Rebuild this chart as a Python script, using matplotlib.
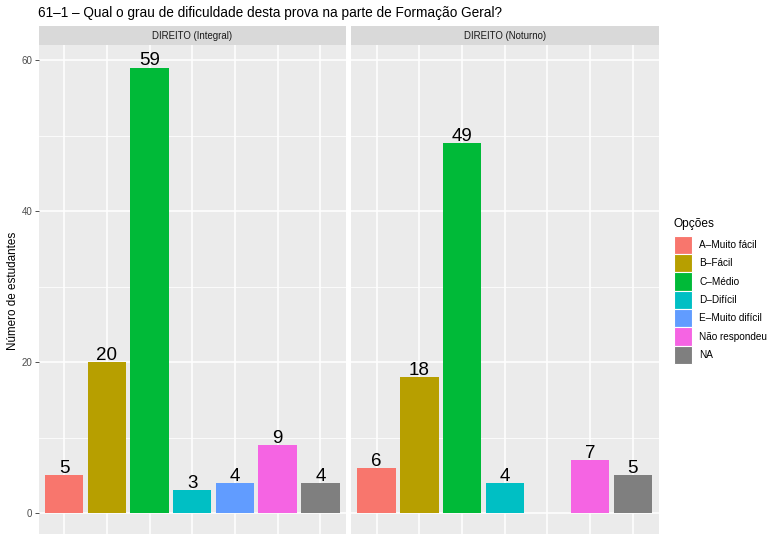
import matplotlib
matplotlib.use("Agg")
import matplotlib.pyplot as plt
from matplotlib.patches import Patch
from matplotlib.ticker import FixedLocator

plt.rcParams['font.family'] = ['Liberation Sans', 'DejaVu Sans']

# Survey data
options = ["A–Muito fácil", "B–Fácil", "C–Médio", "D–Difícil",
           "E–Muito difícil", "Não respondeu", "NA"]
option_colors = ["#F8766D", "#B79F00", "#00BA38", "#00BFC4",
                 "#619CFF", "#F564E3", "#7F7F7F"]
facets = ["DIREITO (Integral)", "DIREITO (Noturno)"]
integral = [5, 20, 59, 3, 4, 9, 4]
noturno = [6, 18, 49, 4, None, 7, 5]
counts = [integral, noturno]

title = "61–1 – Qual o grau de dificuldade desta prova na parte de Formação Geral?"
ylabel = "Número de estudantes"
legend_title = "Opções"
y_major = [0, 20, 40, 60]
y_minor = [10, 30, 50]

W, H = 767, 534
fig = plt.figure(figsize=(W / 100, H / 100), dpi=100)
fig.patch.set_facecolor("white")


def rect(l, t, r, b):
    return [l / W, 1 - b / H, (r - l) / W, (b - t) / H]


ymax_data = max(v for s in counts for v in s if v is not None)
pad = 0.05 * ymax_data
panel_lr = [(38.5, 346.0), (351.0, 658.5)]
panel_top, panel_bottom = 45.3, 535.3
strip_top = 26.0

for i, (facet, values) in enumerate(zip(facets, counts)):
    l, r = panel_lr[i]
    ax = fig.add_axes(rect(l, panel_top, r, panel_bottom))
    ax.set_facecolor("#EBEBEB")
    ax.set_xlim(0.4, len(options) + 0.6)
    ax.set_ylim(-pad, ymax_data + pad)
    ax.yaxis.set_major_locator(FixedLocator(y_major))
    ax.yaxis.set_minor_locator(FixedLocator(y_minor))
    ax.xaxis.set_major_locator(FixedLocator(range(1, len(options) + 1)))
    ax.grid(which="major", color="white", lw=1.1)
    ax.grid(which="minor", axis="y", color="white", lw=0.55)
    ax.set_axisbelow(True)
    for s in ax.spines.values():
        s.set_visible(False)
    ax.tick_params(axis="x", which="both", length=0, labelbottom=False)
    ax.tick_params(axis="y", which="minor", length=0)
    if i == 0:
        ax.tick_params(axis="y", which="major", length=3, width=0.6,
                       color="#333333", labelsize=7, labelcolor="#4D4D4D", pad=1.5)
    else:
        ax.tick_params(axis="y", which="major", length=0, labelleft=False)

    for j, v in enumerate(values):
        if v is None:
            continue
        ax.bar(j + 1, v, width=0.9, color=option_colors[j], zorder=2)
        ax.annotate(str(v), xy=(j + 1, v), xytext=(0, 1.5),
                    textcoords="offset points", ha="center", va="baseline",
                    fontsize=13.5, color="black", zorder=3)

    sax = fig.add_axes(rect(l, strip_top, r, panel_top))
    sax.set_facecolor("#D9D9D9")
    sax.set_xticks([])
    sax.set_yticks([])
    for s in sax.spines.values():
        s.set_visible(False)
    sax.text(0.5, 0.5, facet, ha="center", va="center", fontsize=6.9,
             color="#1A1A1A", transform=sax.transAxes)

fig.text(38 / W, 1 - 13 / H, title, ha="left", va="center", fontsize=9.8,
         color="black")
fig.text(13 / W, 1 - 291 / H, ylabel, ha="center", va="center",
         rotation=90, fontsize=8.4, color="black")

handles = [Patch(facecolor=c, edgecolor="white", lw=0.8) for c in option_colors]
leg = fig.legend(handles, options, title=legend_title, loc="upper left",
                 bbox_to_anchor=(674 / W, 1 - 218 / H), frameon=False,
                 fontsize=7.2, title_fontsize=8.6, borderpad=0, borderaxespad=0,
                 handlelength=1.8, handleheight=2.45, handletextpad=0.7,
                 labelspacing=0.0)
leg._legend_box.align = "left"
leg._legend_box.sep = 4

fig.savefig("out.png", dpi=100, facecolor="white")
